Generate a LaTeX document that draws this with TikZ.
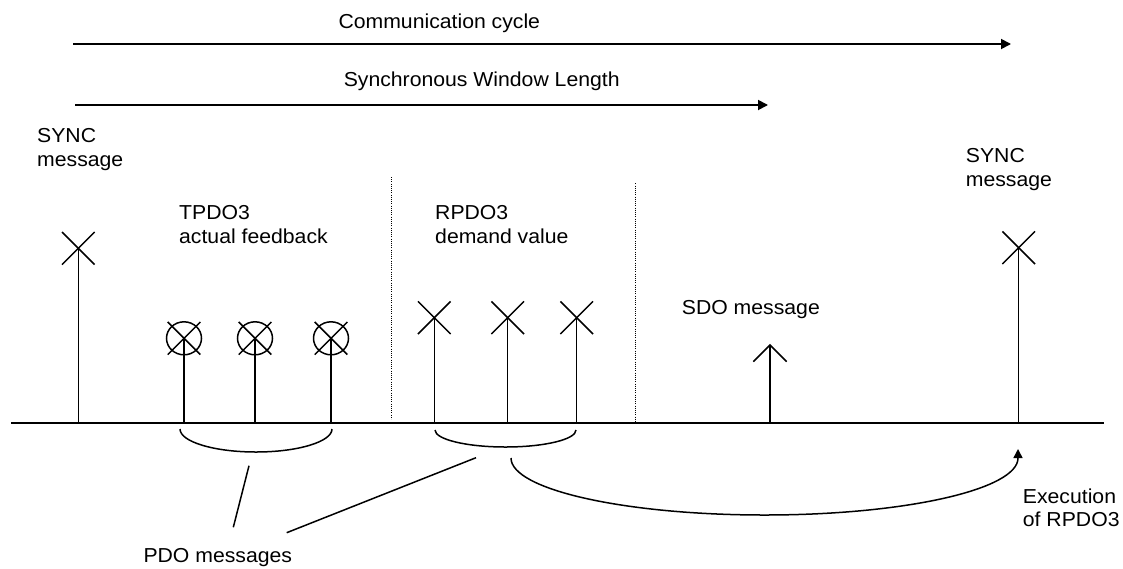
\documentclass[tikz,border=0pt]{standalone}
\usepackage{fontspec}
\setmainfont{Liberation Sans}[FakeStretch=1.05]
\usetikzlibrary{arrows.meta}
\begin{document}
\begin{tikzpicture}[x=1pt,y=-1pt,
  every node/.style={font=\fontsize{20.2}{23.8}\selectfont, inner sep=0pt, align=left},
  lbl/.style={anchor=north west},
  stem/.style={line width=1.5pt},
  axisline/.style={line width=1.7pt},
  sepline/.style={line width=1pt, dash pattern=on 0.9pt off 1.3pt},
  span/.style={line width=1.8pt, -{Triangle[length=10pt,width=10pt]}},
  bracearc/.style={line width=1.5pt},
  execarrow/.style={line width=1.5pt, -{Triangle[length=9pt,width=9pt]}},
  leader/.style={line width=1.5pt},
]
\useasboundingbox (0,0) rectangle (1123,568);

% texts
\node[anchor=north] (cc) at (439.3,13.5) {Communication cycle};
\node[anchor=north] (swl) at (481.7,72) {Synchronous Window Length};
\node[lbl] (sync1) at (37,128) {SYNC\\message};
\node[lbl] (tpdo) at (179,205) {TPDO3\\actual feedback};
\node[lbl] (rpdo) at (435,205) {RPDO3\\demand value};
\node[lbl] (sdo) at (681.7,300) {SDO message};
\node[lbl] (sync2) at (965.7,148.3) {SYNC\\message};
\node[lbl] (exec) at (1022.7,488.3) {Execution\\of RPDO3};
\node[lbl] (pdo) at (143.3,548.3) {PDO messages};

% span arrows
\coordinate (cc0) at (73,44);
\coordinate (cc1) at (1011,44);
\coordinate (sw0) at (75,105);
\coordinate (sw1) at (768,105);
\draw[span] (cc0) -- (cc1);
\draw[span] (sw0) -- (sw1);

% time axis
\coordinate (ax0) at (11,422.7);
\coordinate (ax1) at (1104,422.7);
\draw[axisline] (ax0) -- (ax1);

% separators
\coordinate (d1a) at (391.7,177);
\coordinate (d1b) at (391.7,419);
\coordinate (d2a) at (635.7,183.3);
\coordinate (d2b) at (635.7,425);
\draw[sepline] (d1a) -- (d1b);
\draw[sepline] (d2a) -- (d2b);

% SYNC / RPDO stems with crosses
\foreach \n/\x/\y in {s1/78.3/248.3, s2/1018.7/247.7, r1/434.3/317.7, r2/507.7/317.7, r3/576.7/317.7} {
  \coordinate (\n top) at (\x,\y);
  \coordinate (\n bot) at (\x,422.7);
  \draw[stem] (\n bot) -- (\n top);
  \draw[stem] ([shift={(-16.3,-16.3)}]\n top) -- ([shift={(16.3,16.3)}]\n top);
  \draw[stem] ([shift={(-16.3,16.3)}]\n top) -- ([shift={(16.3,-16.3)}]\n top);
}

% TPDO stems with crossed circles
\foreach \n/\x in {t1/184, t2/255, t3/331} {
  \coordinate (\n top) at (\x,338.3);
  \coordinate (\n bot) at (\x,422.7);
  \draw[stem] (\n bot) -- (\n top);
  \draw[stem] (\n top) ellipse [x radius=17.5, y radius=16.5];
  \draw[stem] ([shift={(-16.3,-16.3)}]\n top) -- ([shift={(16.3,16.3)}]\n top);
  \draw[stem] ([shift={(-16.3,16.3)}]\n top) -- ([shift={(16.3,-16.3)}]\n top);
}

% SDO stem with open arrowhead
\coordinate (sdotop) at (770,345);
\coordinate (sdobot) at (770,422.7);
\draw[stem] (sdobot) -- (sdotop);
\draw[stem] ([shift={(-16.7,16.7)}]sdotop) -- (sdotop) -- ([shift={(16.7,16.7)}]sdotop);

% braces under PDO groups
\coordinate (b1) at (180,429);
\coordinate (b2) at (435,430);
\draw[bracearc] (b1) arc[start angle=180, end angle=0, x radius=76, y radius=23];
\draw[bracearc] (b2) arc[start angle=180, end angle=0, x radius=70.5, y radius=17];

% leaders to PDO label
\coordinate (l1a) at (249,465.7);
\coordinate (l1b) at (233.3,527.3);
\coordinate (l2a) at (476,457.7);
\coordinate (l2b) at (286.7,532.7);
\draw[leader] (l1a) -- (l1b);
\draw[leader] (l2a) -- (l2b);

% execution arc
\coordinate (ex0) at (511,458);
\coordinate (ex1) at (1018,449);
\draw[execarrow] (ex0) arc[start angle=180, end angle=0, x radius=253.5, y radius=57] -- (ex1);
\end{tikzpicture}
\end{document}
